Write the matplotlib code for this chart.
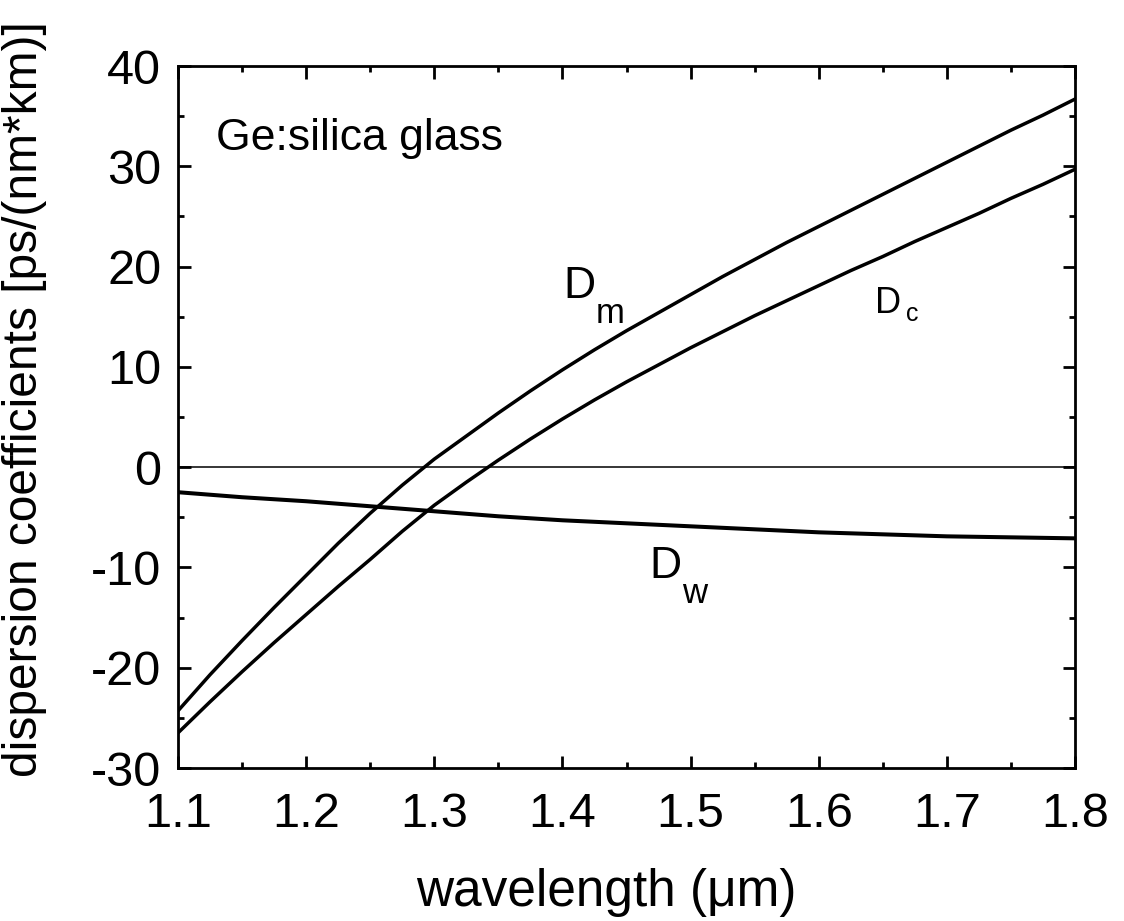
import matplotlib
matplotlib.use("Agg")
import matplotlib.pyplot as plt
from matplotlib.ticker import MultipleLocator

plt.rcParams['font.family'] = ['Liberation Sans', 'DejaVu Sans']

wavelength = [1.100, 1.125, 1.150, 1.175, 1.200, 1.225, 1.250, 1.275, 1.300, 1.325,
              1.350, 1.375, 1.400, 1.425, 1.450, 1.475, 1.500, 1.525, 1.550, 1.575,
              1.600, 1.625, 1.650, 1.675, 1.700, 1.725, 1.750, 1.775, 1.800]
D_m = [-24.3, -20.7, -17.3, -14.0, -10.8, -7.6, -4.6, -1.8, 0.8, 3.1,
       5.4, 7.6, 9.7, 11.7, 13.6, 15.4, 17.2, 19.0, 20.7, 22.4,
       24.0, 25.6, 27.2, 28.8, 30.4, 32.0, 33.6, 35.1, 36.7]
D_c = [-26.5, -23.4, -20.4, -17.5, -14.7, -11.9, -9.2, -6.4, -3.8, -1.5,
       0.7, 2.8, 4.8, 6.7, 8.5, 10.2, 11.9, 13.5, 15.1, 16.6,
       18.1, 19.6, 21.0, 22.5, 23.9, 25.3, 26.8, 28.2, 29.7]
D_w = [-2.5, -2.75, -3.0, -3.2, -3.4, -3.65, -3.9, -4.15, -4.4, -4.65,
       -4.9, -5.1, -5.3, -5.45, -5.6, -5.75, -5.9, -6.05, -6.2, -6.35,
       -6.5, -6.6, -6.7, -6.8, -6.9, -6.95, -7.0, -7.05, -7.1]

xticks = [1.1, 1.2, 1.3, 1.4, 1.5, 1.6, 1.7, 1.8]
xticklabels = ['1.1', '1.2', '1.3', '1.4', '1.5', '1.6', '1.7', '1.8']
yticks = [-30, -20, -10, 0, 10, 20, 30, 40]
yticklabels = ['-30', '-20', '-10', '0', '10', '20', '30', '40']

fig = plt.figure(figsize=(11.24, 9.21), dpi=100)
ax = fig.add_axes([178/1124, 1-768/921, (1075-178)/1124, (768-66)/921])

ax.axhline(0, color='black', lw=1.1, zorder=1)
ax.plot(wavelength, D_m, color='black', lw=2.5, solid_joinstyle='round')
ax.plot(wavelength, D_c, color='black', lw=2.5, solid_joinstyle='round')
ax.plot(wavelength, D_w, color='black', lw=2.9, solid_joinstyle='round')

ax.set_xlim(1.1, 1.8)
ax.set_ylim(-30, 40)
ax.set_xticks(xticks)
ax.set_xticklabels(xticklabels)
ax.set_yticks(yticks)
ax.set_yticklabels(yticklabels)
ax.xaxis.set_minor_locator(MultipleLocator(0.05))
ax.yaxis.set_minor_locator(MultipleLocator(5))
ax.tick_params(which='both', direction='in', top=True, right=True, width=2, labelsize=35)
ax.tick_params(which='major', length=9)
ax.tick_params(which='minor', length=4.5)
ax.tick_params(axis='x', pad=17)
ax.tick_params(axis='y', pad=12)
for s in ax.spines.values():
    s.set_linewidth(2)

ax.set_xlabel('wavelength (\u03bcm)', fontsize=37)
ax.xaxis.set_label_coords(0.477, -0.143)
ax.set_ylabel('dispersion coefficients [ps/(nm*km)]', fontsize=34.5)
ax.yaxis.set_label_coords(-0.146, 0.525)

ax.text(1.1297, 31.6, 'Ge:silica glass', fontsize=32, ha='left', va='baseline')
ax.text(1.4005, 16.85, 'D', fontsize=32, ha='left', va='baseline')
ax.text(1.4258, 14.36, 'm', fontsize=25, ha='left', va='baseline')
ax.text(1.6440, 15.35, 'D', fontsize=26, ha='left', va='baseline')
ax.text(1.6680, 14.60, 'c', fontsize=18, ha='left', va='baseline')
ax.text(1.4676, -11.07, 'D', fontsize=32, ha='left', va='baseline')
ax.text(1.4935, -13.56, 'w', fontsize=25, ha='left', va='baseline')

fig.savefig('out.png', dpi=100)
